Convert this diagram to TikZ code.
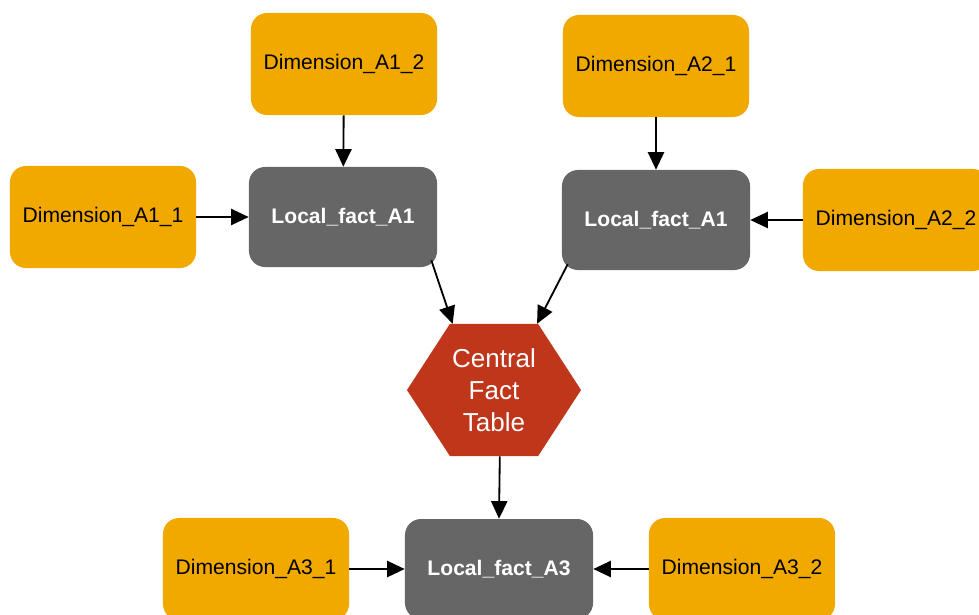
\documentclass[tikz,border=0pt]{standalone}
\usepackage{fontspec}
\setmainfont{Liberation Sans}
\usepackage{tikz}
\usetikzlibrary{arrows.meta,positioning,calc,shapes.symbols}
\usepackage{xcolor}
\definecolor{dimorange}{RGB}{241,169,0}
\definecolor{factgray}{RGB}{102,102,102}
\definecolor{centralred}{RGB}{191,54,26}

\begin{document}
\begin{tikzpicture}[x=0.025cm, y=-0.025cm,
dimnode/.style={rectangle, rounded corners=0.4cm, fill=dimorange, text=black, minimum width=4.65cm, minimum height=2.55cm, font=\fontsize{15}{18}\selectfont},
factnode/.style={rectangle, rounded corners=0.4cm, fill=factgray, text=white, minimum width=4.7cm, minimum height=2.5cm, font=\fontsize{15}{18}\selectfont\bfseries},
hexnode/.style={signal, signal to=east and west, signal pointer angle=114, fill=centralred, text=white, minimum width=4.35cm, minimum height=3.3cm, inner sep=0pt, align=center, font=\fontsize{18.5}{22.7}\selectfont},
link/.style={-{Triangle[length=12.5pt,width=11.5pt]}, line width=1.3pt, black},
]
\useasboundingbox (0,0) rectangle (979,614);
\node[hexnode] (central) at (494,390) {Central\\Fact\\Table};
\node[factnode] (lfa1) at (343,217) {Local\_fact\_A1};
\node[factnode] (lfa2) at (656,220) {Local\_fact\_A1};
\node[factnode] (lfa3) at (499,569) {Local\_fact\_A3};
\node[dimnode] (dA12) at (344,64) {Dimension\_A1\_2};
\node[dimnode] (dA11) at (103,217) {Dimension\_A1\_1};
\node[dimnode] (dA21) at (656,66) {Dimension\_A2\_1};
\node[dimnode] (dA22) at (896,220) {Dimension\_A2\_2};
\node[dimnode] (dA31) at (256,569) {Dimension\_A3\_1};
\node[dimnode] (dA32) at (742,569) {Dimension\_A3\_2};

\draw[link] (dA12) -- (lfa1);
\draw[link] (dA11) -- (lfa1);
\draw[link] (dA21) -- (lfa2);
\draw[link] (dA22) -- (lfa2);
\draw[link] ($(lfa1.south east)+(-6,-7)$) -- (central.122);
\draw[link] ($(lfa2.south west)+(6,-6)$) -- (central.57);
\draw[link] (central.-85) -- (lfa3.north);
\draw[link] (dA31) -- (lfa3);
\draw[link] (dA32) -- (lfa3);
\end{tikzpicture}
\end{document}
